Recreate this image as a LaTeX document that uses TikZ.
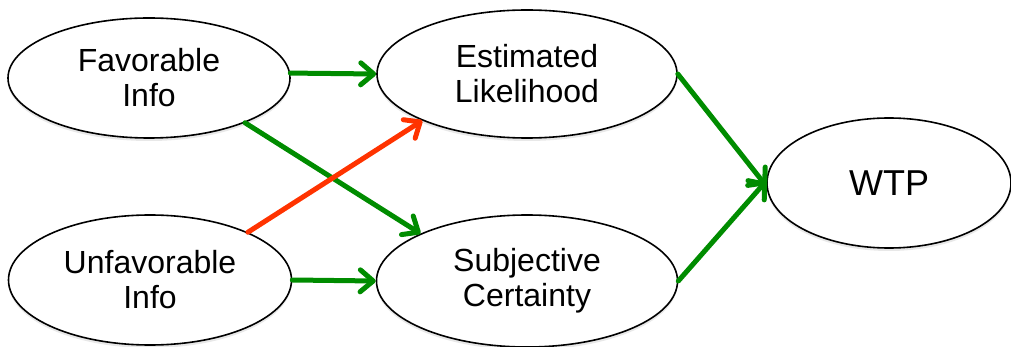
\documentclass[tikz,border=0pt]{standalone}
\usepackage{fontspec}
\setmainfont{Liberation Sans}
\usetikzlibrary{arrows.meta,shadows,shapes.geometric}
\definecolor{arrgreen}{RGB}{0,140,0}
\definecolor{arrred}{RGB}{255,51,0}
\tikzset{
  bubble/.style={ellipse, draw=black, line width=1.6pt, fill=white, inner sep=0pt,
    align=center, font=\fontsize{32}{35}\selectfont,
    drop shadow={shadow xshift=0pt, shadow yshift=-3pt, opacity=0.18}},
  link/.style={line width=5pt, line cap=round,
    -{Straight Barb[length=13pt,width=22pt,line cap=round,line join=round]}},
  poslink/.style={link, draw=arrgreen},
  neglink/.style={link, draw=arrred}
}
\begin{document}
\begin{tikzpicture}[x=1pt,y=-1pt]
\useasboundingbox (0,0) rectangle (1011,347);
\node[bubble, minimum width=282pt, minimum height=120pt] (fav) at (149,78) {Favorable\\Info};
\node[bubble, minimum width=300pt, minimum height=128pt] (est) at (527,74) {Estimated\\Likelihood};
\node[bubble, minimum width=283pt, minimum height=130pt] (unf) at (150,280) {Unfavorable\\Info};
\node[bubble, minimum width=301pt, minimum height=132pt] (subj) at (527,281) {Subjective\\Certainty};
\node[bubble, minimum width=244pt, minimum height=130pt, font=\fontsize{36}{40}\selectfont] (wtp) at (889,183) {WTP};
\draw[poslink] (fav.2) -- (est.west);
\draw[poslink] (fav.-25) -- (subj.156);
\draw[neglink] (unf.26) -- (est.204);
\draw[poslink] (unf.east) -- (subj.west);
\draw[poslink] (est.east) -- ([yshift=-3pt]wtp.west);
\draw[poslink] (subj.east) -- ([yshift=2pt]wtp.west);
\end{tikzpicture}
\end{document}
